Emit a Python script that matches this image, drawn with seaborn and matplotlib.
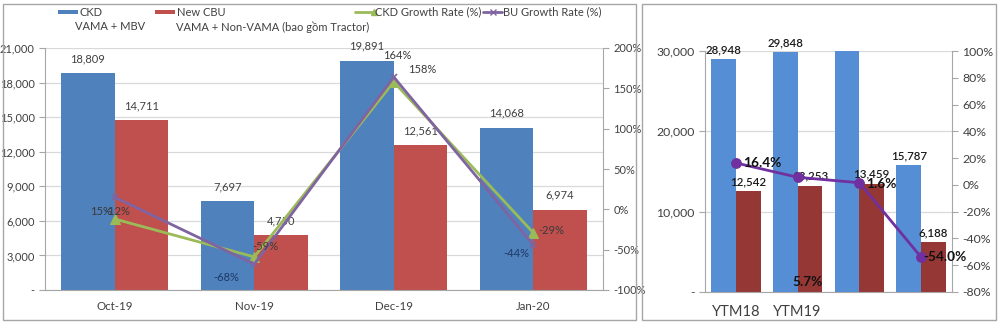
import numpy as np
import pandas as pd
import matplotlib
matplotlib.use("Agg")
import matplotlib.pyplot as plt
import matplotlib.ticker as mticker
from matplotlib.patches import Rectangle
from matplotlib.lines import Line2D
import seaborn as sns

# ---- monthly data (left chart) ----
months = ["Oct-19", "Nov-19", "Dec-19", "Jan-20"]
ckd_units = [18809, 7697, 19891, 14068]
cbu_units = [14711, 4750, 12561, 6974]
ckd_growth = [-12, -59, 158, -29]
bu_growth = [15, -68, 164, -44]

# ---- year-to-month data (right chart) ----
periods = ["YTM18", "YTM19", "P3", "P4"]
period_labels = ["YTM18", "YTM19", "", ""]
ckd_ytd = [28948, 29848, 31500, 15787]
cbu_ytd = [12542, 13253, 13459, 6188]
ytd_growth = [16.4, 5.7, 1.6, -54.0]

sns.set_style("white")
plt.rcParams["font.family"] = ["Lato", "DejaVu Sans"]

BLUE, RED = "#4F81BD", "#C0504D"
GREEN, PURPLE = "#9BBB59", "#8064A2"
BLUE2, RED2, PURPLE2 = "#558ED5", "#953735", "#7030A0"
GRID, SPINE, TXT = "#D9D9D9", "#A6A6A6", "#404040"

W, H = 1000, 328
fig = plt.figure(figsize=(W / 100, H / 100), dpi=100)
fig.patch.set_facecolor("white")


def fx(px):
    return px / W


def fy(py):
    return 1 - py / H


def pt(px):
    return px * 0.72


# panel frames
for x0, x1 in [(3, 636), (642, 996)]:
    fig.patches.append(Rectangle((fx(x0), fy(320)), fx(x1 - x0), (320 - 4) / H,
                                 transform=fig.transFigure, fill=False,
                                 edgecolor=SPINE, lw=1))


def thousands(v, _):
    return "-" if abs(v) < 1e-9 else f"{v:,.0f}"


def style_axes(ax, ax2, ncat, fs):
    ax.set_xlim(-0.5, ncat - 0.5)
    ax.set_axisbelow(True)
    ax.yaxis.grid(True, color=GRID, lw=0.9)
    ax.xaxis.grid(False)
    for s in ["top", "right"]:
        ax.spines[s].set_visible(False)
    for s in ["left", "bottom"]:
        ax.spines[s].set_color(SPINE)
    for s in ["top", "left", "bottom"]:
        ax2.spines[s].set_visible(False)
    ax2.spines["right"].set_color(SPINE)
    ax.set_xticks(np.arange(-0.5, ncat, 1.0), minor=True)
    ax.tick_params(axis="x", which="major", length=0, pad=8, labelsize=fs + 0.3, labelcolor=TXT)
    ax.tick_params(axis="x", which="minor", length=5, color=SPINE, direction="out")
    ax.tick_params(axis="y", length=4, color=SPINE, labelsize=fs, labelcolor=TXT, left=True)
    ax2.tick_params(axis="y", length=4, color=SPINE, labelsize=fs, labelcolor=TXT, right=True)
    ax.yaxis.set_major_formatter(mticker.FuncFormatter(thousands))
    ax.set_xlabel("")
    ax.set_ylabel("")
    ax2.set_ylabel("")


FS = 8.0

# ================= left chart =================
axL = fig.add_axes([fx(45), fy(290), fx(558), 242 / H])
dfL = pd.DataFrame({
    "month": months * 2,
    "series": ["CKD"] * len(months) + ["New CBU"] * len(months),
    "units": ckd_units + cbu_units,
})
sns.barplot(data=dfL, x="month", y="units", hue="series", palette=[BLUE, RED],
            width=0.77, saturation=1, legend=False, linewidth=0, ax=axL)
axL.set_ylim(0, 21000)
axL.set_yticks(np.arange(0, 21001, 3000))
for cont in axL.containers:
    axL.bar_label(cont, fmt="{:,.0f}", padding=pt(9), fontsize=FS, color=TXT)

axL2 = axL.twinx()
xs = np.arange(len(months))
sns.lineplot(x=xs, y=ckd_growth, ax=axL2, color=GREEN, lw=2, marker="^",
             markersize=7, markeredgecolor=GREEN)
sns.lineplot(x=xs, y=bu_growth, ax=axL2, color=PURPLE, lw=2, marker="x",
             markersize=5, markeredgewidth=1.2, markeredgecolor=PURPLE)
axL2.set_ylim(-100, 200)
axL2.set_yticks(np.arange(-100, 201, 50))
axL2.yaxis.set_major_formatter(mticker.FuncFormatter(lambda v, _: f"{v:.0f}%"))
style_axes(axL, axL2, len(months), FS)

# percentage labels (offsets in pixels: right, down)
ckd_off = [(2, -8), (11, -10), (28, -12), (18, -2)]
bu_off = [(-14, 14), (-28, 13), (3, -22), (-17, 9)]
for i, (v, (dx, dy)) in enumerate(zip(ckd_growth, ckd_off)):
    axL2.annotate(f"{v}%", (i, v), xytext=(pt(dx), -pt(dy)), textcoords="offset points",
                  ha="center", va="center", fontsize=FS, color="#3a3a3a")
for i, (v, (dx, dy)) in enumerate(zip(bu_growth, bu_off)):
    axL2.annotate(f"{v}%", (i, v), xytext=(pt(dx), -pt(dy)), textcoords="offset points",
                  ha="center", va="center", fontsize=FS,
                  color="#1F3864" if v < -40 else "#3a3a3a")

# legend
fig.patches.append(Rectangle((fx(58), fy(14)), fx(20), 4 / H, transform=fig.transFigure,
                             color=BLUE, lw=0))
fig.text(fx(79), fy(12), "CKD", fontsize=FS, color=TXT, va="center")
fig.text(fx(75), fy(27), "VAMA + MBV", fontsize=FS, color=TXT, va="center")
fig.patches.append(Rectangle((fx(155), fy(14)), fx(20), 4 / H, transform=fig.transFigure,
                             color=RED, lw=0))
fig.text(fx(177), fy(12), "New CBU", fontsize=FS, color=TXT, va="center")
fig.text(fx(176), fy(27), "VAMA + Non-VAMA (bao gồm Tractor)", fontsize=FS, color=TXT,
         va="center")
fig.lines.append(Line2D([fx(355), fx(374)], [fy(12), fy(12)], transform=fig.transFigure,
                        color=GREEN, lw=2, marker="^", markevery=[1], markersize=5))
fig.text(fx(375), fy(12), "CKD Growth Rate (%)", fontsize=FS, color=TXT, va="center")
fig.lines.append(Line2D([fx(483), fx(502)], [fy(12), fy(12)], transform=fig.transFigure,
                        color=PURPLE, lw=2))
fig.lines.append(Line2D([fx(492.5)], [fy(12)], transform=fig.transFigure, color=PURPLE,
                        marker="x", markersize=4, markeredgewidth=1))
fig.text(fx(503), fy(12), "BU Growth Rate (%)", fontsize=FS, color=TXT, va="center")

# ================= right chart =================
axR = fig.add_axes([fx(705), fy(292), fx(247), 241 / H])
dfR = pd.DataFrame({
    "period": periods * 2,
    "series": ["CKD"] * len(periods) + ["CBU"] * len(periods),
    "units": ckd_ytd + cbu_ytd,
})
sns.barplot(data=dfR, x="period", y="units", hue="series", palette=[BLUE2, RED2],
            width=0.8, saturation=1, legend=False, linewidth=0, ax=axR)
axR.set_ylim(0, 30000)
axR.set_yticks(np.arange(0, 30001, 10000))
for cont in axR.containers:
    axR.bar_label(cont, fmt="{:,.0f}", padding=pt(4), fontsize=8.3, color="#1a1a1a",
                  fontweight="semibold")

axR2 = axR.twinx()
xr = np.arange(len(periods))
sns.lineplot(x=xr, y=ytd_growth, ax=axR2, color=PURPLE2, lw=2, marker="o",
             markersize=7, markeredgecolor=PURPLE2)
axR2.set_ylim(-80, 100)
axR2.set_yticks(np.arange(-80, 101, 20))
axR2.yaxis.set_major_formatter(mticker.FuncFormatter(lambda v, _: f"{v:.0f}%"))
style_axes(axR, axR2, len(periods), 8.8)
axR.set_xticks(xr)
axR.set_xticklabels(period_labels)
axR.tick_params(axis="x", which="major", labelsize=10.5, pad=9)

ytd_off = [(26, 0), (10, 105), (22, 1), (24, 0)]
for i, (v, (dx, dy)) in enumerate(zip(ytd_growth, ytd_off)):
    axR2.annotate(f"{v:.1f}%", (i, v), xytext=(pt(dx), -pt(dy)), textcoords="offset points",
                  ha="center", va="center", fontsize=9.8, color="#111111", fontweight="bold")

fig.savefig("out.png", dpi=100, facecolor="white")
